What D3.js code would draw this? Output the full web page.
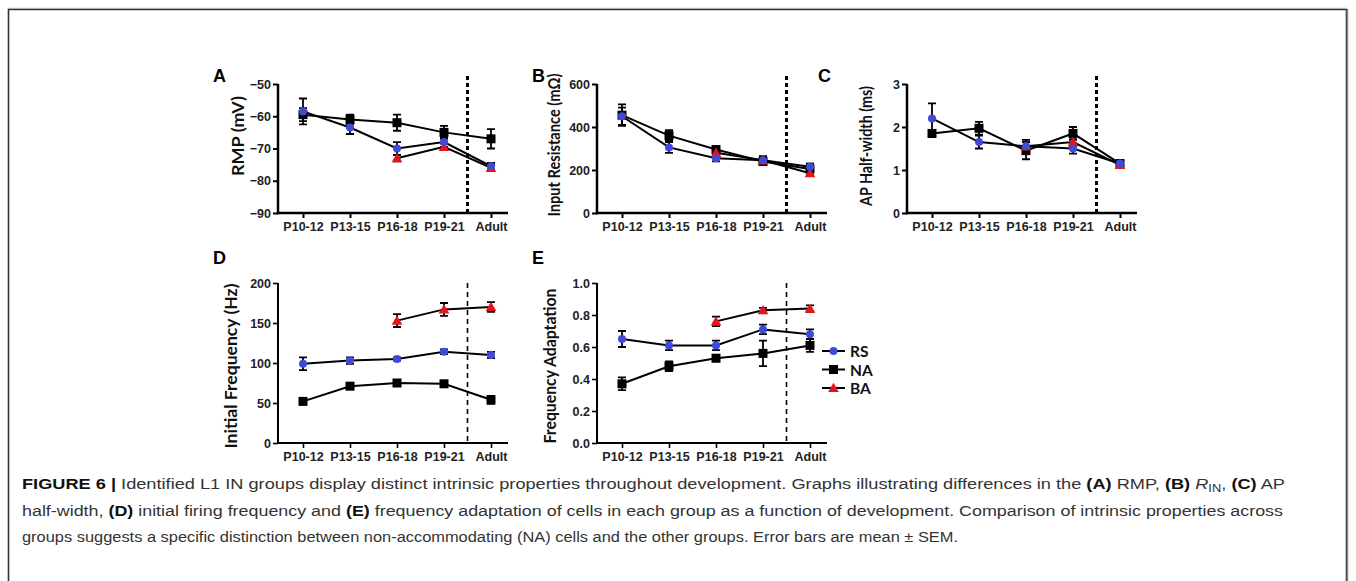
<!DOCTYPE html>
<html><head><meta charset="utf-8">
<script src="https://cdn.jsdelivr.net/npm/d3@7"></script>
<style>body{margin:0;background:#fff}svg{display:block}</style>
</head><body><svg id="c" width="1356" height="581"></svg>
<script>
// ---------- DATA ----------
const categories = ["P10-12", "P13-15", "P16-18", "P19-21", "Adult"];
const seriesNames = ["RS", "NA", "BA"];

// A: RMP (mV)
const rmpRS = [-58.5, -63.5, -70, -68, -75.5];
const rmpRSErr = [4, 2, 2, 1.5, 1];
const rmpNA = [-59.5, -61, -62, -65, -67];
const rmpNAErr = [2, 1.5, 2.5, 2, 3];
const rmpBA = [null, null, -73, -69.5, -76];
const rmpBAErr = [null, null, 1, 1, 0.8];
const rmpTicks = [-50, -60, -70, -80, -90];

// B: Input Resistance
const rinRS = [450, 305, 255, 245, 215];
const rinRSErr = [40, 25, 15, 20, 15];
const rinNA = [455, 360, 295, 240, 205];
const rinNAErr = [50, 25, 15, 15, 25];
const rinBA = [null, null, 280, 245, 185];
const rinBAErr = [null, null, 15, 15, 12];
const rinTicks = [0, 200, 400, 600];

// C: AP half-width
const apRS = [2.2, 1.65, 1.55, 1.5, 1.15];
const apRSErr = [0.35, 0.15, 0.15, 0.12, 0.05];
const apNA = [1.85, 1.97, 1.45, 1.85, 1.15];
const apNAErr = [0.08, 0.15, 0.2, 0.15, 0.08];
const apBA = [null, null, 1.55, 1.65, 1.12];
const apBAErr = [null, null, 0.1, 0.1, 0.05];
const apTicks = [0, 1, 2, 3];

// D: Initial frequency
const ifRS = [99, 103, 105, 114, 110];
const ifRSErr = [8, 4, 2, 3, 4];
const ifNA = [52, 71, 75, 74, 54];
const ifNAErr = [3, 3, 3, 3, 5];
const ifBA = [null, null, 153, 167, 170];
const ifBAErr = [null, null, 8, 8, 6];
const ifTicks = [0, 50, 100, 150, 200];

// E: Frequency adaptation
const faRS = [0.65, 0.61, 0.61, 0.71, 0.68];
const faRSErr = [0.05, 0.03, 0.03, 0.03, 0.03];
const faNA = [0.37, 0.48, 0.53, 0.56, 0.61];
const faNAErr = [0.04, 0.03, 0.02, 0.08, 0.04];
const faBA = [null, null, 0.76, 0.83, 0.84];
const faBAErr = [null, null, 0.03, 0.015, 0.02];
const faTicks = [0, 0.2, 0.4, 0.6, 0.8, 1.0];

const captionLines = [
  [["FIGURE 6 | ", "b"], ["Identified L1 IN groups display distinct intrinsic properties throughout development. Graphs illustrating differences in the ", ""], ["(A)", "b"], [" RMP, ", ""], ["(B)", "b"], [" ", ""], ["R", "i"], ["IN", "sub"], [", ", "up"], ["(C)", "b"], [" AP", ""]],
  [["half-width, ", ""], ["(D)", "b"], [" initial firing frequency and ", ""], ["(E)", "b"], [" frequency adaptation of cells in each group as a function of development. Comparison of intrinsic properties across", ""]],
  [["groups suggests a specific distinction between non-accommodating (NA) cells and the other groups. Error bars are mean \u00b1 SEM.", ""]]
];

// ---------- LAYOUT ----------
const panels = [
  {letter: "A", title: "RMP (mV)", ax: 278, top: 84, bottom: 213, domain: [-90, -50], ticks: rmpTicks, fmt: d3.format("d"),
   series: {RS: [rmpRS, rmpRSErr], NA: [rmpNA, rmpNAErr], BA: [rmpBA, rmpBAErr]}, titleX: 240, titleY: 136, titleLen: 80, lx: 213, ly: 82, dash: "4,3", dashW: 3, axW: 2.5},
  {letter: "B", title: "Input Resistance (m\u03a9)", ax: 597, top: 84, bottom: 213, domain: [0, 600], ticks: rinTicks, fmt: d3.format("d"),
   series: {RS: [rinRS, rinRSErr], NA: [rinNA, rinNAErr], BA: [rinBA, rinBAErr]}, titleX: 556, titleY: 145, titleLen: 143, lx: 532, ly: 82, dash: "4,3", dashW: 3, axW: 2.5},
  {letter: "C", title: "AP Half-width (ms)", ax: 907, top: 84, bottom: 213, domain: [0, 3], ticks: apTicks, fmt: d3.format("d"),
   series: {RS: [apRS, apRSErr], NA: [apNA, apNAErr], BA: [apBA, apBAErr]}, titleX: 868, titleY: 146, titleLen: 120, lx: 818, ly: 82, dash: "4,3", dashW: 3, axW: 2.5},
  {letter: "D", title: "Initial Frequency (Hz)", ax: 278, top: 283, bottom: 443, domain: [0, 200], ticks: ifTicks, fmt: d3.format("d"),
   series: {RS: [ifRS, ifRSErr], NA: [ifNA, ifNAErr], BA: [ifBA, ifBAErr]}, titleX: 233, titleY: 366, titleLen: 165, lx: 213, ly: 264, dash: "5,4", dashW: 1.6, axW: 2},
  {letter: "E", title: "Frequency Adaptation", ax: 597, top: 283, bottom: 443, domain: [0, 1], ticks: faTicks, fmt: d3.format(".1f"),
   series: {RS: [faRS, faRSErr], NA: [faNA, faNAErr], BA: [faBA, faBAErr]}, titleX: 552, titleY: 366, titleLen: 155, lx: 532, ly: 264, dash: "5,4", dashW: 1.6, axW: 2}
];

const svg = d3.select("#c");
const tickFont = "'Liberation Sans', Arial, sans-serif";
const titleFont = "Lato, 'Open Sans', sans-serif";
const colors = {RS: "#3f4bd8", NA: "#000", BA: "#e8141c"};

// border
svg.append("line").attr("x1", 8).attr("x2", 1347).attr("y1", 8.2).attr("y2", 8.2).attr("stroke", "#ccc").attr("stroke-width", 1);
svg.append("path").attr("d", "M8.5,600 V9.5 H1346.5 V600").attr("fill", "none").attr("stroke", "#333").attr("stroke-width", 1.6);
svg.append("line").attr("x1", 1347.5).attr("x2", 1347.5).attr("y1", 9).attr("y2", 600).attr("stroke", "#888").attr("stroke-width", 1.5);

function marker(g, name, x, y) {
  if (name === "NA") {
    g.append("rect").attr("x", x - 4.5).attr("y", y - 4.5).attr("width", 9).attr("height", 9).attr("fill", "#000");
  } else if (name === "RS") {
    g.append("circle").attr("cx", x).attr("cy", y).attr("r", 4).attr("fill", colors.RS);
  } else {
    g.append("path").attr("d", d3.symbol(d3.symbolTriangle, 50)()).attr("transform", `translate(${x},${y + 1})`).attr("fill", colors.BA);
  }
}

panels.forEach(p => {
  const g = svg.append("g");
  const x = d3.scalePoint().domain(categories).range([p.ax + 25, p.ax + 213]);
  const y = d3.scaleLinear().domain(p.domain).range([p.bottom, p.top]);
  const xEnd = p.ax + 230;

  // dashed separator
  const xd = (x("P19-21") + x("Adult")) / 2;
  g.append("line").attr("x1", xd).attr("x2", xd).attr("y1", p.top - (p.top < 100 ? 8 : 0)).attr("y2", p.bottom)
    .attr("stroke", "#000").attr("stroke-width", p.dashW).attr("stroke-dasharray", p.dash);

  // y axis
  const yAxis = g.append("g").attr("transform", `translate(${p.ax},0)`)
    .call(d3.axisLeft(y).tickValues(p.ticks).tickFormat(p.fmt).tickSizeOuter(0).tickSize(5).tickPadding(2));
  yAxis.select(".domain").attr("stroke-width", p.axW).attr("d", `M0,${p.top}V${p.bottom + p.axW / 2}`);
  yAxis.selectAll(".tick line").attr("stroke-width", p.axW * 0.8);
  yAxis.selectAll("text").attr("font-family", tickFont).attr("font-weight", "bold").attr("font-size", 12.5).attr("fill", "#222");

  // x axis
  const xAxis = g.append("g").attr("transform", `translate(0,${p.bottom})`)
    .call(d3.axisBottom(x).tickSize(5).tickPadding(4));
  xAxis.select(".domain").attr("stroke-width", p.axW).attr("d", `M${p.ax - p.axW / 2},0H${xEnd}`);
  xAxis.selectAll(".tick line").attr("stroke-width", p.axW * 0.8);
  xAxis.selectAll("text").attr("font-family", tickFont).attr("font-weight", "bold").attr("font-size", 12.5).attr("fill", "#222");

  // y title
  g.append("text").attr("transform", `translate(${p.titleX},${p.titleY}) rotate(-90)`)
    .attr("text-anchor", "middle").attr("dominant-baseline", "middle")
    .attr("textLength", p.titleLen).attr("lengthAdjust", "spacingAndGlyphs")
    .attr("font-family", titleFont).attr("font-weight", "bold").attr("font-size", 17).attr("fill", "#111").text(p.title);

  // panel letter
  g.append("text").attr("x", p.lx).attr("y", p.ly).attr("font-family", tickFont)
    .attr("font-weight", "bold").attr("font-size", 18).attr("fill", "#000").text(p.letter);

  const order = ["NA", "BA", "RS"];
  order.forEach(n => {
    const [vals] = p.series[n];
    const pts = categories.map((c, i) => [c, vals[i]]).filter(d => d[1] != null);
    g.append("path").datum(pts).attr("fill", "none").attr("stroke", "#000").attr("stroke-width", 2)
      .attr("d", d3.line().x(d => x(d[0])).y(d => y(d[1])));
  });
  order.forEach(n => {
    const [vals, errs] = p.series[n];
    categories.forEach((c, i) => {
      if (vals[i] == null) return;
      const cx = x(c), y1 = y(vals[i] + errs[i]), y2 = y(vals[i] - errs[i]);
      g.append("path").attr("d", `M${cx},${y1}V${y2}M${cx - 4},${y1}H${cx + 4}M${cx - 4},${y2}H${cx + 4}`)
        .attr("stroke", "#000").attr("stroke-width", 1.8).attr("fill", "none");
    });
  });
  order.forEach(n => {
    const [vals] = p.series[n];
    categories.forEach((c, i) => { if (vals[i] != null) marker(g, n, x(c), y(vals[i])); });
  });
});

// legend
const lg = svg.append("g");
seriesNames.forEach((n, i) => {
  const yy = 351 + i * 18.5;
  lg.append("line").attr("x1", 822).attr("x2", 845).attr("y1", yy).attr("y2", yy).attr("stroke", "#000").attr("stroke-width", 2);
  marker(lg, n, 833.5, yy);
  lg.append("text").attr("x", 850).attr("y", yy).attr("dominant-baseline", "central")
    .attr("font-family", titleFont).attr("font-weight", "bold").attr("font-size", 15.5).attr("fill", "#111").text(n);
});

// caption
const capWidths = [1263, 1261, 936];
captionLines.forEach((parts, li) => {
  const t = svg.append("text").attr("x", 22).attr("y", 489 + li * 26.7)
    .attr("font-family", "'Liberation Sans Narrow', 'Liberation Sans', Arial, sans-serif")
    .attr("font-size", 15.5).attr("fill", "#333")
    .attr("textLength", capWidths[li]).attr("lengthAdjust", "spacingAndGlyphs");
  parts.forEach(([s, st]) => {
    const ts = t.append("tspan").text(s);
    if (st === "b") ts.attr("font-weight", "bold").attr("fill", "#111");
    if (st === "i") ts.attr("font-style", "italic");
    if (st === "sub") ts.attr("font-size", 11).attr("dy", 3);
    if (st === "up") ts.attr("dy", -3);
  });
});
</script></body></html>
